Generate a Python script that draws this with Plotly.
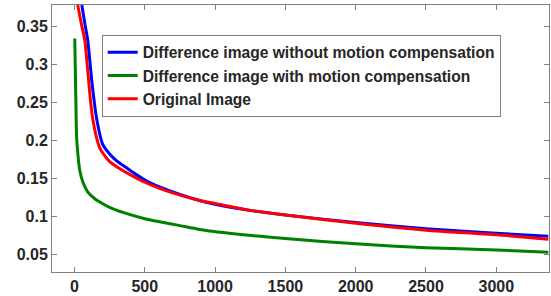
import plotly.graph_objects as go

# Data
blue_x = [52, 75, 94, 125, 158, 200, 250, 300, 370, 440, 520, 605, 750, 890, 1000, 1250, 1500, 2000, 2500, 3000, 3370]
blue_y = [0.378, 0.352, 0.332, 0.275, 0.228, 0.195, 0.182, 0.173, 0.164, 0.155, 0.146, 0.139, 0.129, 0.121, 0.116, 0.108, 0.102, 0.092, 0.084, 0.078, 0.074]

green_x = [2, 5, 10, 15, 25, 38, 60, 95, 140, 180, 250, 350, 500, 605, 750, 890, 1200, 1500, 2000, 2500, 3000, 3370]
green_y = [0.334, 0.30, 0.25, 0.205, 0.18, 0.16, 0.145, 0.132, 0.124, 0.119, 0.112, 0.105, 0.097, 0.093, 0.088, 0.083, 0.076, 0.071, 0.064, 0.059, 0.056, 0.053]

red_x = [23, 50, 73, 95, 115, 130, 155, 180, 215, 250, 320, 415, 500, 605, 750, 890, 1000, 1250, 1500, 2000, 2500, 3000, 3370]
red_y = [0.378, 0.352, 0.332, 0.29, 0.25, 0.228, 0.205, 0.19, 0.18, 0.172, 0.163, 0.153, 0.145, 0.137, 0.128, 0.121, 0.117, 0.108, 0.102, 0.091, 0.082, 0.076, 0.070]

names = ["Difference image without motion compensation",
         "Difference image with motion compensation",
         "Original Image"]

x_ticks = [0, 500, 1000, 1500, 2000, 2500, 3000]
y_ticks = [0.05, 0.1, 0.15, 0.2, 0.25, 0.3, 0.35]
y_ticktext = ["0.05", "0.1", "0.15", "0.2", "0.25", "0.3", "0.35"]

fig = go.Figure()
for xs, ys, name, col in [(blue_x, blue_y, names[0], "#0000ff"),
                          (green_x, green_y, names[1], "#008000"),
                          (red_x, red_y, names[2], "#ff0000")]:
    fig.add_trace(go.Scatter(x=xs, y=ys, mode="lines", name=name,
                             line=dict(color=col, width=3, shape="spline", smoothing=0.8)))

axis_common = dict(showline=True, linecolor="#808080", linewidth=1, mirror="ticks",
                   ticks="inside", ticklen=5, tickcolor="#808080", showgrid=False,
                   zeroline=False,
                   tickfont=dict(family="Liberation Sans, Arial", size=16, color="#262626", weight="bold"))

fig.update_xaxes(range=[-160, 3375], tickvals=x_ticks, **axis_common)
fig.update_yaxes(range=[0.027, 0.378], tickvals=y_ticks, ticktext=y_ticktext, **axis_common)

fig.update_layout(
    width=551, height=296,
    margin=dict(l=52, r=1, t=5, b=21),
    plot_bgcolor="white", paper_bgcolor="white",
    showlegend=True,
    legend=dict(x=0.1, y=0.889, xanchor="left", yanchor="top",
                bgcolor="white", bordercolor="#808080", borderwidth=1,
                font=dict(family="Liberation Sans, Arial", size=15.6, color="#262626", weight="bold"),
                tracegroupgap=0, itemwidth=30),
)

fig.write_html("out.html", config={"displayModeBar": False},
               post_script="document.body.style.margin='0';document.body.style.overflow='hidden';")
